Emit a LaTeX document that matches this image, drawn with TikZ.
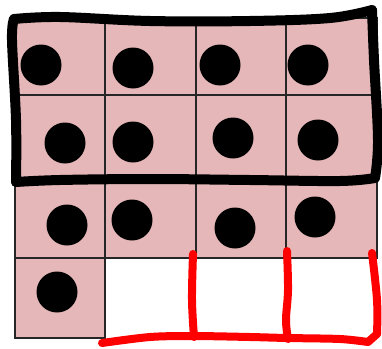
\documentclass[tikz,border=0pt]{standalone}
\usepackage{tikz}

\definecolor{cellpink}{RGB}{229,183,184}
\tikzset{
  cell/.style={fill=cellpink, draw=black!85, line width=1.6pt},
  marker/.style={draw=black, line width=10pt, line cap=round, line join=round},
  redpen/.style={draw=red, line width=8pt, line cap=round, line join=round}
}

\begin{document}
\begin{tikzpicture}[x=1pt,y=-1pt]
    \useasboundingbox (0,0) rectangle (382,348);
    % pink cells
    \foreach \xa/\xb in {15/105,105/196,196/286,286/377}
        \foreach \ya/\yb in {18/95,95/181,181/258}
            \draw[cell] (\xa,\ya) rectangle (\xb,\yb);
    \draw[cell] (15,258) rectangle (105,338);
    % counters
    \foreach \p in {(41,65),(133,68),(220,65),(308,65),
                    (65,143),(133,142),(233,138),(318,140),
                    (67,225),(132,220),(235,228),(315,217),
                    (57,292)}
        \fill \p circle (20.5pt);
    % loop round the first two rows
    \draw[marker] plot[smooth, tension=0.6] coordinates {(14,19) (60,17) (150,21) (250,21) (330,18) (372,10)};
    \draw[marker] plot[smooth, tension=0.6] coordinates {(372,10) (374,60) (378,140) (375,178)};
    \draw[marker] plot[smooth, tension=0.6] coordinates {(375,178) (340,181) (250,180) (150,179) (60,180) (16,182)};
    \draw[marker] plot[smooth, tension=0.6] coordinates {(16,182) (16,120) (12,40) (14,19)};
    % red missing cells
    \draw[redpen] plot[smooth, tension=0.5] coordinates {(102,343) (150,337) (193,336) (250,337) (287,338) (340,339) (368,342)};
    \draw[redpen] (368,342) -- (377,334);
    \draw[redpen] plot[smooth, tension=0.6] coordinates {(377,334) (377,300) (372,253)};
    \draw[redpen] plot[smooth, tension=0.6] coordinates {(193,254) (192,300) (194,337)};
    \draw[redpen] plot[smooth, tension=0.6] coordinates {(287,251) (288,290) (286,320) (288,339)};
\end{tikzpicture}
\end{document}
